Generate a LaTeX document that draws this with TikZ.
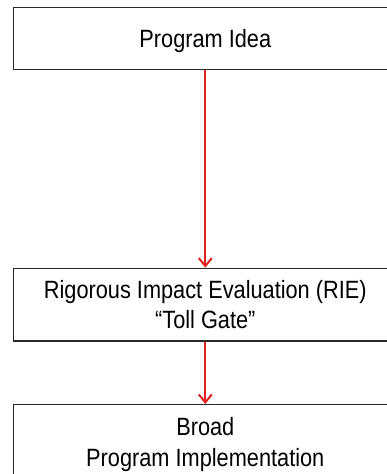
\documentclass[tikz,border=0pt]{standalone}
\usepackage{fontspec}
\setmainfont{Liberation Sans}
\newfontfamily\narrowfont[FakeStretch=0.87]{Liberation Sans}
\usetikzlibrary{arrows.meta}
\definecolor{arrowred}{RGB}{222,34,34}
\definecolor{boxline}{RGB}{40,40,40}
\tikzset{
  box/.style={draw=boxline, line width=1.3pt, fill=white, minimum width=384pt,
    align=center, font=\narrowfont\fontsize{25}{30.7}\selectfont, inner sep=0pt},
  flow/.style={draw=arrowred, line width=2pt, -{Straight Barb[length=8pt,width=13pt,line width=2pt]}}
}
\begin{document}
\begin{tikzpicture}[x=1pt,y=1pt]
\useasboundingbox (0,0) rectangle (387,-474);
\clip (0,0) rectangle (387,-474);
\fill[white] (0,0) rectangle (387,-474);
\node[box, minimum height=62pt, text depth=0pt] (idea) at (205.3,-38.3) {Program Idea};
\node[box, minimum height=72.7pt] (rie) at (205.3,-304.7) {Rigorous Impact Evaluation (RIE)\\“Toll Gate”};
\node[box, anchor=north, inner ysep=13pt] (broad) at (205.3,-404) {Broad\\Program Implementation};
\draw[flow] (idea.south) -- (rie.north);
\draw[flow] (rie.south) -- (broad.north);
\end{tikzpicture}
\end{document}
